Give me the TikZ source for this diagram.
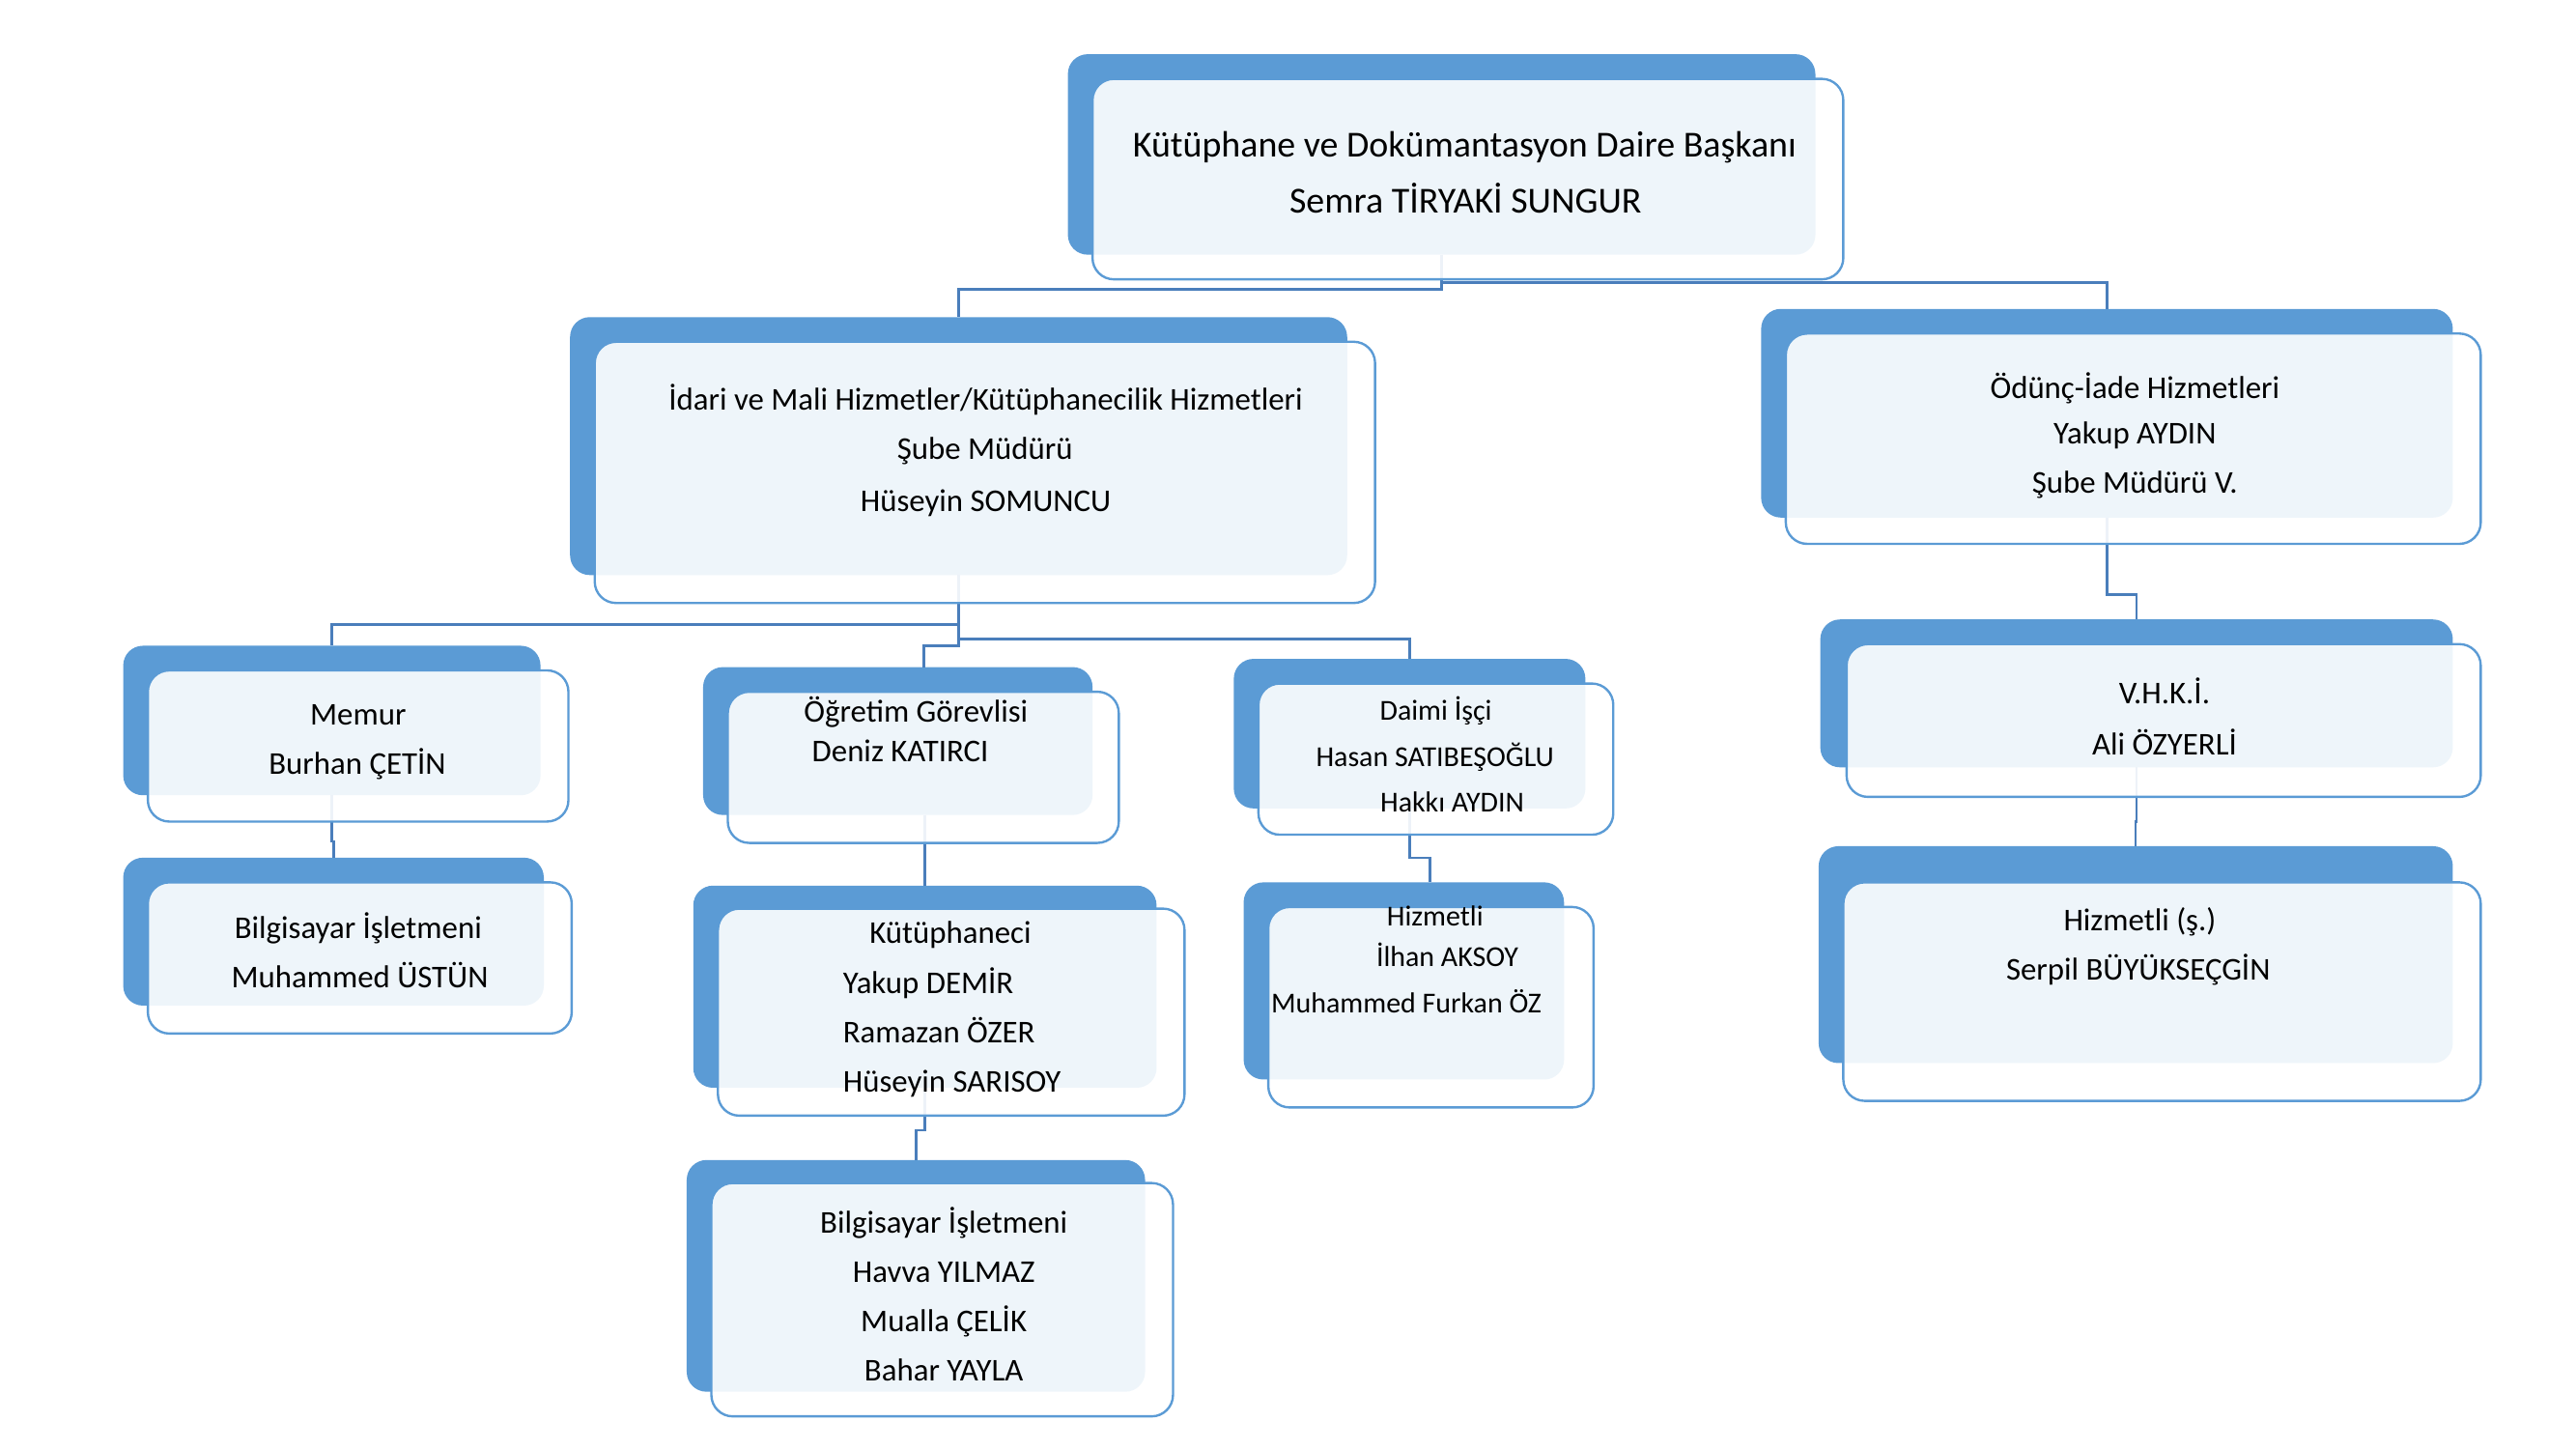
\documentclass[tikz,border=0pt]{standalone}
\usepackage{fontspec}
\setmainfont{Carlito}
\usetikzlibrary{fit}
\definecolor{accent}{HTML}{5B9BD5}
\definecolor{linkblue}{HTML}{4A7EBB}
\tikzset{
  backbox/.style={fill=accent, draw=none, rounded corners=12pt, inner sep=0pt, outer sep=0pt},
  frontbox/.style={fill=white, fill opacity=0.9, draw=accent, line width=1.4pt, rounded corners=13pt, inner sep=0pt, outer sep=0pt},
  conn/.style={draw=linkblue, line width=1.5pt},
  txt/.style={anchor=mid, inner sep=0pt, yshift=-5pt, font=\fontsize{19.3}{22}\selectfont},
  txtsmall/.style={txt, font=\fontsize{17.6}{20}\selectfont},
  txtbig/.style={txt, font=\fontsize{22.3}{26}\selectfont}
}
\begin{document}
\begin{tikzpicture}[x=1pt, y=-1pt]
  \useasboundingbox (0,0) rectangle (1568,882);
  % blue plates
  \foreach \n/\xa/\ya/\xb/\yb in {head/650/33/1105/155, idari/347/193/820/350,
      odunc/1072/188/1493/315, memur/75/393/329/484, bilgi/75/522/331/612,
      ogretim/428/406/665/496, kutup/422/539/704/662, bilgib/418/706/697/847,
      daimi/751/401/965/492, hizmetli/757/537/952/657, vhki/1108/377/1493/467,
      hizmetlis/1107/515/1493/647} {
    \node[backbox, fit={(\xa,\ya) (\xb,\yb)}] (\n) {};
  }
  % connectors
  \draw[conn] (head.south) -- ++(0,21) -| (idari.north);
  \draw[conn] (head.south) ++(0,17) -| (odunc.north);
  \draw[conn] (idari.south) -- ++(0,30) -| (memur.north);
  \draw[conn] (idari.south) ++(0,39) -| (daimi.north);
  \draw[conn] (idari.south) -- ++(0,43) -| ([xshift=16pt]ogretim.north);
  \draw[conn] (ogretim.south -| kutup.north) -- (kutup.north);
  \draw[conn] (kutup.south) -- ++(0,26) -| (bilgib.north);
  \draw[conn] (memur.south) -- ++(0,28) -| (bilgi.north);
  \draw[conn] (daimi.south) -- ++(0,30) -| ([xshift=16pt]hizmetli.north);
  \draw[conn] (odunc.south) -- ++(0,47) -| (vhki.north);
  \draw[conn] (vhki.south) -- ++(0,33) -| (hizmetlis.north);
  % white cards
  \foreach \n/\xa/\ya/\xb/\yb in {head/665/48/1122/170, idari/362/208/837/367,
      odunc/1087/203/1510/331, memur/90/408/346/500, bilgi/90/537/348/629,
      ogretim/443/421/681/513, kutup/437/553/721/679, bilgib/433/720/714/862,
      daimi/766/416/982/508, hizmetli/772/552/970/674, vhki/1124/392/1510/485,
      hizmetlis/1122/537/1510/670} {
    \node[frontbox, fit={(\xa,\ya) (\xb,\yb)}] (\n F) {};
  }
  % texts
  \node[txtbig] (head1) at (891.5,88) {Kütüphane ve Dokümantasyon Daire Başkanı};
  \node[txtbig] (head2) at (892,122) {Semra TİRYAKİ SUNGUR};
  \node[txt] (idari1) at (600,242) {İdari ve Mali Hizmetler/Kütüphanecilik Hizmetleri};
  \node[txt] (idari2) at (599.5,272) {Şube Müdürü};
  \node[txt] (idari3) at (600,304) {Hüseyin SOMUNCU};
  \node[txt] (odunc1) at (1299.5,235) {Ödünç-İade Hizmetleri};
  \node[txt] (odunc2) at (1299.5,263) {Yakup AYDIN};
  \node[txt] (odunc3) at (1299.5,293) {Şube Müdürü V.};
  \node[txt] (memur1) at (218,434) {Memur};
  \node[txt] (memur2) at (217.5,464) {Burhan ÇETİN};
  \node[txt] (bilgi1) at (218,564) {Bilgisayar İşletmeni};
  \node[txt] (bilgi2) at (219,594) {Muhammed ÜSTÜN};
  \node[txt] (ogretim1) at (557.5,432) {Öğretim Görevlisi};
  \node[txt] (ogretim2) at (548,456) {Deniz KATIRCI};
  \node[txt] (kutup1) at (578.5,567) {Kütüphaneci};
  \node[txt, anchor=mid west] (kutup2) at (513,597) {Yakup DEMİR};
  \node[txt, anchor=mid west] (kutup3) at (513,627) {Ramazan ÖZER};
  \node[txt, anchor=mid west] (kutup4) at (513,657) {Hüseyin SARISOY};
  \node[txt] (bilgib1) at (574.5,743) {Bilgisayar İşletmeni};
  \node[txt] (bilgib2) at (574.5,773) {Havva YILMAZ};
  \node[txt] (bilgib3) at (574.5,803) {Mualla ÇELİK};
  \node[txt] (bilgib4) at (574.5,833) {Bahar YAYLA};
  \node[txtsmall] (daimi1) at (874,431) {Daimi İşçi};
  \node[txtsmall] (daimi2) at (873.5,459) {Hasan SATIBEŞOĞLU};
  \node[txtsmall, anchor=mid west] (daimi3) at (840,487) {Hakkı AYDIN};
  \node[txtsmall] (hizmetli1) at (873.5,556) {Hizmetli};
  \node[txtsmall] (hizmetli2) at (881,581) {İlhan AKSOY};
  \node[txtsmall] (hizmetli3) at (856,609) {Muhammed Furkan ÖZ};
  \node[txt] (vhki1) at (1317.5,421) {V.H.K.İ.};
  \node[txt] (vhki2) at (1317.5,452) {Ali ÖZYERLİ};
  \node[txt] (hizmetlis1) at (1302.5,559) {Hizmetli (ş.)};
  \node[txt] (hizmetlis2) at (1301.5,589) {Serpil BÜYÜKSEÇGİN};
\end{tikzpicture}
\end{document}
